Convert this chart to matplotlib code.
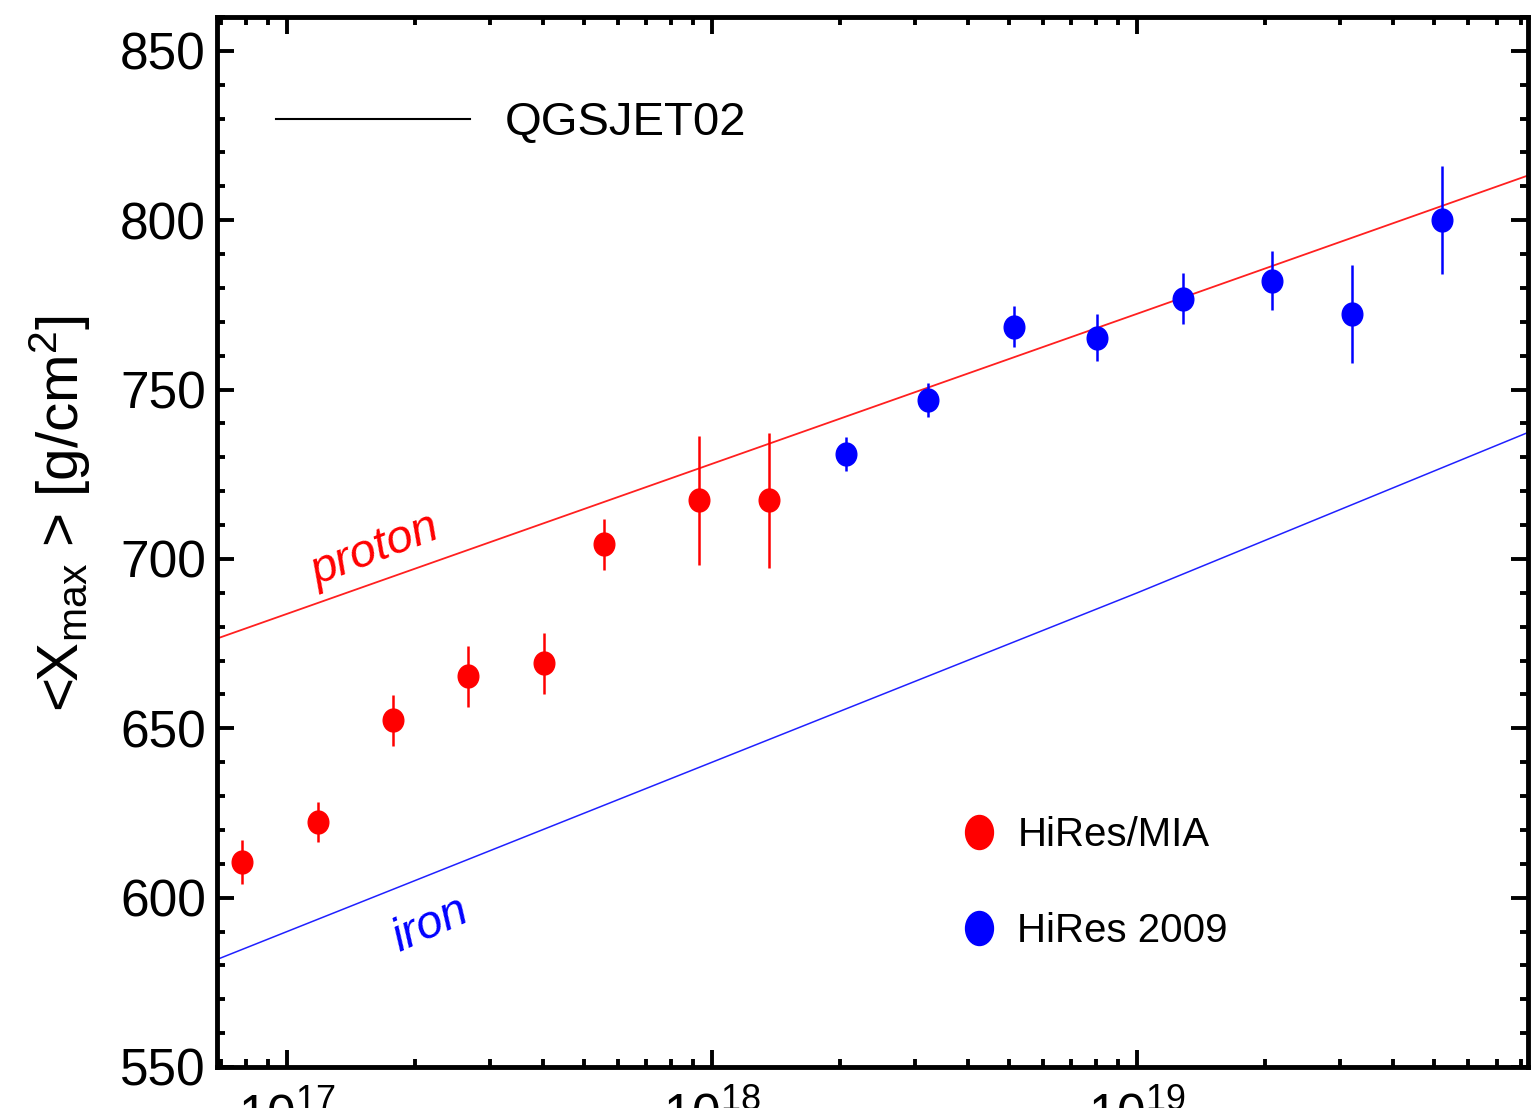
import numpy as np
import matplotlib
matplotlib.use("Agg")
import matplotlib.pyplot as plt
from matplotlib.lines import Line2D
from matplotlib.path import Path
from matplotlib.transforms import Affine2D
from matplotlib.ticker import LogLocator, LogFormatterSciNotation, MultipleLocator

plt.rcParams['font.family'] = ['Liberation Sans', 'DejaVu Sans']
plt.rcParams['mathtext.default'] = 'regular'

# ----------------------------
# Datos
# ----------------------------
mia_E = [7.83e16, 1.18e17, 1.77e17, 2.66e17, 4.02e17, 5.56e17, 9.29e17, 1.36e18]
mia_xmax = [610.5, 622.3, 652.4, 665.3, 669.2, 704.3, 717.3, 717.3]
mia_err = [6.5, 6.0, 7.5, 9.0, 9.0, 7.5, 19.0, 20.0]

hires_E = [2.06e18, 3.21e18, 5.14e18, 8.05e18, 1.28e19, 2.07e19, 3.20e19, 5.21e19]
hires_xmax = [731.1, 747.0, 768.6, 765.3, 776.8, 782.2, 772.4, 800.1]
hires_err = [5.0, 5.0, 6.0, 7.0, 7.5, 8.7, 14.5, 16.0]

model_E = [1e16, 1e17, 1e18, 1e19, 1e20]
proton_xmax = [639.5, 683.8, 728.1, 772.4, 816.8]
iron_xmax = [540.0, 590.0, 640.0, 690.0, 741.5]

# marcadores ligeramente alargados en vertical, como en el original
dot = Path.unit_circle().transformed(Affine2D().scale(0.9, 1.0))
dot_leg = Path.unit_circle().transformed(Affine2D().scale(0.82, 1.0))

fig = plt.figure(figsize=(15.38, 11.08), dpi=100)
ax = fig.add_axes([217 / 1538, 1 - 1067 / 1108, 1311 / 1538, 1050 / 1108])

# Curvas QGSJET02
ax.plot(model_E, proton_xmax, '-', color='#ff2020', lw=1.3, zorder=2)
ax.plot(model_E, iron_xmax, '-', color='#2020ff', lw=1.1, zorder=2)

# Datos
ax.errorbar(mia_E, mia_xmax, yerr=mia_err, fmt='none', ecolor='#ff0000',
            elinewidth=1.8, capsize=0, zorder=3)
ax.plot(mia_E, mia_xmax, linestyle='none', marker=dot, markersize=16.5,
        color='#ff0000', zorder=4)
ax.errorbar(hires_E, hires_xmax, yerr=hires_err, fmt='none', ecolor='#0000ff',
            elinewidth=1.8, capsize=0, zorder=3)
ax.plot(hires_E, hires_xmax, linestyle='none', marker=dot, markersize=16.5,
        color='#0000ff', zorder=4)

# Etiquetas de curvas
ax.text(1.61e17, 702.5, 'proton', color='#ff0000', fontsize=34, style='italic',
        rotation=21, ha='center', va='center')
ax.text(2.17e17, 592, 'iron', color='#0000ff', fontsize=34, style='italic',
        rotation=24, ha='center', va='center')

# Ejes
ax.set_xscale('log')
ax.set_xlim(6.84e16, 8.3e19)
ax.set_ylim(550, 860)
ax.yaxis.set_major_locator(MultipleLocator(50))
ax.yaxis.set_minor_locator(MultipleLocator(10))
ax.xaxis.set_major_locator(LogLocator(base=10, numticks=10))
ax.xaxis.set_minor_locator(LogLocator(base=10, subs=np.arange(2, 10), numticks=20))
ax.xaxis.set_major_formatter(LogFormatterSciNotation())
ax.tick_params(which='both', direction='in', top=True, right=True,
               labelsize=37, width=2.8)
ax.tick_params(which='major', length=12)
ax.tick_params(which='minor', length=6)
ax.tick_params(axis='x', which='major', pad=18)
ax.tick_params(axis='y', which='major', pad=8)
for s in ax.spines.values():
    s.set_linewidth(3.5)

fig.text(60 / 1538, 1 - 513 / 1108, r'<X$_{max}$ > [g/cm$^{2}$]', rotation=90,
         fontsize=42, ha='center', va='center')

# Leyendas
leg1 = ax.legend(handles=[Line2D([], [], color='black', lw=1.5)], labels=['QGSJET02'],
                 loc='center left', bbox_to_anchor=(0.045, 0.899), frameon=False,
                 fontsize=34, handlelength=4.1, handletextpad=0.75, borderpad=0,
                 borderaxespad=0)
ax.add_artist(leg1)
h_mia = Line2D([], [], linestyle='none', marker=dot_leg, markersize=24.5, color='#ff0000')
h_hires = Line2D([], [], linestyle='none', marker=dot_leg, markersize=24.5, color='#0000ff')
ax.legend(handles=[h_mia, h_hires], labels=['HiRes/MIA', 'HiRes 2009'],
          loc='center left', bbox_to_anchor=(0.566, 0.175), frameon=False,
          fontsize=29, handlelength=1.0, handletextpad=0.45, labelspacing=1.45,
          borderpad=0, borderaxespad=0)

plt.savefig('out.png', dpi=100)
plt.close()
